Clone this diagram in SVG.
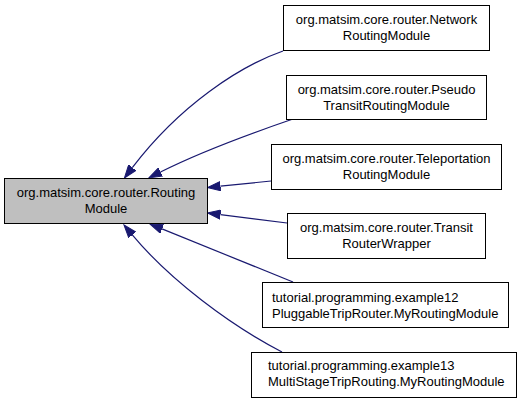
<svg xmlns="http://www.w3.org/2000/svg" width="523" height="403" viewBox="0 0 523 403">
<style>
.node rect{fill:#ffffff;stroke:#000000;stroke-width:1}
#n0 rect{fill:#bfbfbf}
text{font-family:"Liberation Sans",Arial,Helvetica,sans-serif;font-size:13px;fill:#000000}
.c{text-anchor:middle}
.edge{fill:none;stroke:#191970;stroke-width:1.2;marker-end:url(#arr)}
</style>
<defs>
<marker id="arr" markerUnits="userSpaceOnUse" markerWidth="14" markerHeight="10" viewBox="0 -5 14 10" refX="0" refY="0" orient="auto">
<path d="M0,-4.6 L13,0 L0,4.6 Z" fill="#191970" stroke="#191970" stroke-width="1"/>
</marker>
</defs>
<rect width="523" height="403" fill="#ffffff"/>
<g id="connectors">
<path class="edge" d="M283,51 C240,66 180,105 132.3,167.6"/>
<path class="edge" d="M293,119 C255,132 200,152 160.5,172"/>
<path class="edge" d="M271,181 L220.4,186.2"/>
<path class="edge" d="M287,223 L220.4,214.6"/>
<path class="edge" d="M293,282 L162,228.9"/>
<path class="edge" d="M282,352 C230,325 170,280 132.3,234.9"/>
</g>
<g id="n0" class="node">
<rect x="4.5" y="178.5" width="203" height="45"/>
<text class="c" x="106" y="197">org.matsim.core.router.Routing</text>
<text class="c" x="106" y="212.5">Module</text>
</g>
<g id="n1" class="node">
<rect x="283.5" y="5.5" width="206" height="45"/>
<text class="c" x="386.5" y="24">org.matsim.core.router.Network</text>
<text class="c" x="386.5" y="39.5">RoutingModule</text>
</g>
<g id="n2" class="node">
<rect x="286.5" y="75.5" width="200" height="44"/>
<text class="c" x="386.5" y="94">org.matsim.core.router.Pseudo</text>
<text class="c" x="386.5" y="109.5">TransitRoutingModule</text>
</g>
<g id="n3" class="node">
<rect x="271.5" y="144.5" width="230" height="45"/>
<text class="c" x="386.5" y="163">org.matsim.core.router.Teleportation</text>
<text class="c" x="386.5" y="178.5">RoutingModule</text>
</g>
<g id="n4" class="node">
<rect x="287.5" y="213.5" width="198" height="45"/>
<text class="c" x="386.5" y="232">org.matsim.core.router.Transit</text>
<text class="c" x="386.5" y="247.5">RouterWrapper</text>
</g>
<g id="n5" class="node">
<rect x="262.5" y="282.5" width="246" height="45"/>
<text x="272" y="302">tutorial.programming.example12</text>
<text x="272" y="317.5">PluggableTripRouter.MyRoutingModule</text>
</g>
<g id="n6" class="node">
<rect x="251.5" y="352.5" width="265" height="45"/>
<text x="268" y="370">tutorial.programming.example13</text>
<text x="268" y="385.5">MultiStageTripRouting.MyRoutingModule</text>
</g>
</svg>
